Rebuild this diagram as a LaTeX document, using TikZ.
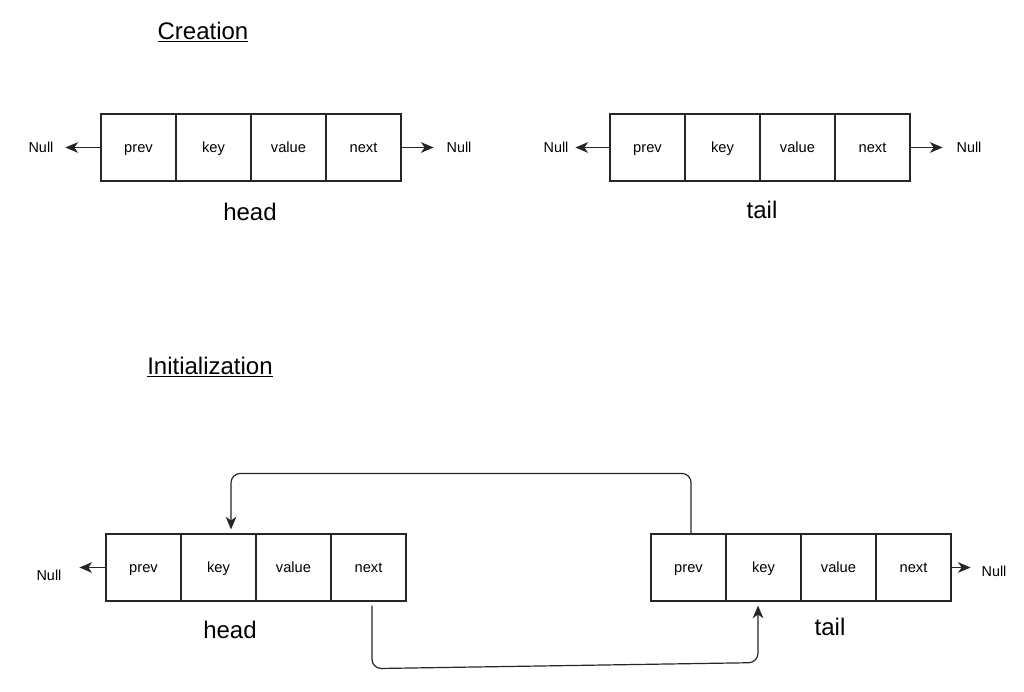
\documentclass[tikz,border=0pt]{standalone}
\usepackage{fontspec}
\setmainfont{Liberation Sans}
\usetikzlibrary{arrows.meta}
\begin{document}
\begin{tikzpicture}[x=0.75pt,y=-0.75pt,
  cell/.style={draw=black!85,line width=0.9pt,minimum width=56.25pt,minimum height=50.25pt,inner sep=0pt,text height=9pt,text depth=1.5pt,font=\fontsize{11}{13}\selectfont},
  nulltxt/.style={font=\fontsize{10.8}{13}\selectfont,inner sep=0pt,text height=9pt,text depth=1.5pt},
  biglabel/.style={font=\fontsize{18}{22}\selectfont,inner sep=0pt},
  arr/.style={draw=black!85,line width=0.9pt,-{Stealth[length=9.5pt,width=8pt,inset=2.8pt]}},
  link/.style={arr,rounded corners=7pt}]
\useasboundingbox (0,0) rectangle (1024,692);
\fill[white] (0,0) rectangle (1024,692);
% titles
\node[biglabel] (t1) at (203,32) {\underline{Creation}};
\node[biglabel] (t2) at (210,367) {\underline{Initialization}};
% creation head
\node[cell] (ap) at (138.5,147.5) {prev};
\node[cell] (ak) at (213.5,147.5) {key};
\node[cell] (av) at (288.5,147.5) {value};
\node[cell] (an) at (363.5,147.5) {next};
\node[biglabel] (al) at (250,212) {head};
\node[nulltxt] (anl) at (41,147.5) {Null};
\node[nulltxt] (anr) at (459,147.5) {Null};
\draw[arr] (ap.west) -- ++(-35,0) coordinate (aendl);
\draw[arr] (an.east) -- ++(32,0) coordinate (aendr);
% creation tail
\node[cell] (bp) at (647.5,147.5) {prev};
\node[cell] (bk) at (722.5,147.5) {key};
\node[cell] (bv) at (797.5,147.5) {value};
\node[cell] (bn) at (872.5,147.5) {next};
\node[biglabel] (bl) at (762,210) {tail};
\node[nulltxt] (bnl) at (556,147.5) {Null};
\node[nulltxt] (bnr) at (969,147.5) {Null};
\draw[arr] (bp.west) -- ++(-34,0) coordinate (bendl);
\draw[arr] (bn.east) -- ++(32,0) coordinate (bendr);
% init head
\node[cell] (cp) at (143.5,567.5) {prev};
\node[cell] (ck) at (218.5,567.5) {key};
\node[cell] (cv) at (293.5,567.5) {value};
\node[cell] (cn) at (368.5,567.5) {next};
\node[biglabel] (cl) at (230,630) {head};
\node[nulltxt] (cnl) at (49,575) {Null};
\draw[arr] (cp.west) -- ++(-26,0) coordinate (cendl);
% init tail
\node[cell] (dp) at (688.5,567.5) {prev};
\node[cell] (dk) at (763.5,567.5) {key};
\node[cell] (dv) at (838.5,567.5) {value};
\node[cell] (dn) at (913.5,567.5) {next};
\node[biglabel] (dl) at (830,627) {tail};
\node[nulltxt] (dnr) at (994,571) {Null};
\draw[arr] (dn.east) -- ++(19,0) coordinate (dendr);
% links
\draw[link] ([xshift=1.9pt]dp.north) -- ++(0,-60) -| ([xshift=9.4pt,yshift=3pt]ck.north);
\draw[link] ([xshift=2.6pt,yshift=-3pt]cn.south) -- ++(0,63) -- ++(386,-6) -- ([xshift=-4.1pt,yshift=-3pt]dk.south);
\end{tikzpicture}
\end{document}
